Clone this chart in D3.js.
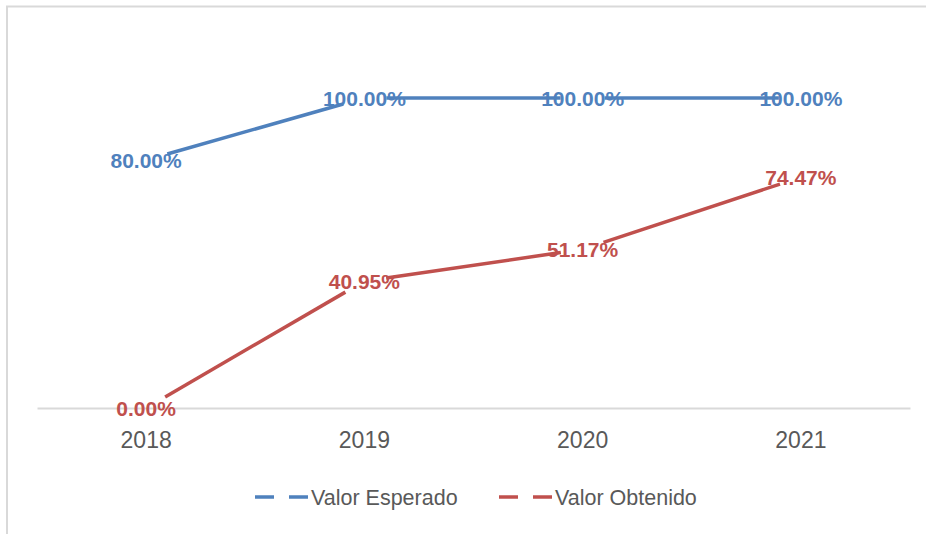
<!DOCTYPE html>
<html>
<head>
<meta charset="utf-8">
<script src="https://cdn.jsdelivr.net/npm/d3@7"></script>
<style>
  body { margin: 0; background: #fff; }
  svg { display: block; }
  .tick-label { font-family: "Liberation Sans", Arial, sans-serif; font-size: 23px; fill: #595959; }
  .data-label { font-family: "Liberation Sans", Arial, sans-serif; font-size: 21px; font-weight: bold; }
  .legend-text { font-family: "Liberation Sans", Arial, sans-serif; font-size: 21.5px; fill: #595959; }
</style>
</head>
<body>
<div id="chart"></div>
<script>
const YEARS = ["2018", "2019", "2020", "2021"];
const ESPERADO = [80.0, 100.0, 100.0, 100.0];
const OBTENIDO = [0.0, 40.95, 51.17, 74.47];

const SERIES = [
  { name: "Valor Esperado", values: ESPERADO, color: "#4f81bd" },
  { name: "Valor Obtenido", values: OBTENIDO, color: "#c0504d" }
];

const WIDTH = 926;
const HEIGHT = 534;
const MARGIN = { TOP: 98, RIGHT: 16, BOTTOM: 126, LEFT: 37 };
const CHART_WIDTH = WIDTH - MARGIN.LEFT - MARGIN.RIGHT;
const CHART_HEIGHT = HEIGHT - MARGIN.TOP - MARGIN.BOTTOM;
const TRIM = 22;

const SVG = d3.select("#chart").append("svg")
  .attr("width", WIDTH)
  .attr("height", HEIGHT);

// outer frame (only top and left edges show in the picture)
SVG.append("path")
  .attr("d", "M7,534 V6.5 H926")
  .attr("fill", "none")
  .attr("stroke", "#d9d9d9")
  .attr("stroke-width", 2);

const CHART = SVG.append("g")
  .attr("transform", "translate(" + MARGIN.LEFT + "," + MARGIN.TOP + ")");

const X_SCALE = d3.scaleBand()
  .domain(YEARS)
  .range([0, CHART_WIDTH]);

const Y_SCALE = d3.scaleLinear()
  .domain([0, 100])
  .range([CHART_HEIGHT, 0]);

const X_AXIS = d3.axisBottom(X_SCALE).tickSize(0).tickPadding(24);

const AXIS_G = CHART.append("g")
  .attr("transform", "translate(0," + CHART_HEIGHT + ")")
  .call(X_AXIS);
AXIS_G.select(".domain").attr("stroke", "#d9d9d9").attr("stroke-width", 2);
AXIS_G.selectAll(".tick text").attr("class", "tick-label").attr("font-size", null).attr("font-family", null);

const px = (i) => X_SCALE(YEARS[i]) + X_SCALE.bandwidth() / 2;

SERIES.forEach((s) => {
  const G = CHART.append("g");
  // segments between points, shortened at both ends like the original
  const segs = d3.pairs(s.values.map((v, i) => [px(i), Y_SCALE(v)]));
  const trim = (a, b) => TRIM / Math.hypot(b[0] - a[0], b[1] - a[1]);
  G.selectAll("line")
    .data(segs)
    .enter()
    .append("line")
    .attr("x1", (d) => d[0][0] + (d[1][0] - d[0][0]) * trim(d[0], d[1]))
    .attr("y1", (d) => d[0][1] + (d[1][1] - d[0][1]) * trim(d[0], d[1]))
    .attr("x2", (d) => d[1][0] - (d[1][0] - d[0][0]) * trim(d[0], d[1]))
    .attr("y2", (d) => d[1][1] - (d[1][1] - d[0][1]) * trim(d[0], d[1]))
    .attr("stroke", s.color)
    .attr("stroke-width", 3.5);

  G.selectAll("text")
    .data(s.values)
    .enter()
    .append("text")
    .attr("class", "data-label")
    .attr("x", (d, i) => px(i))
    .attr("y", (d) => Y_SCALE(d))
    .attr("dy", "0.36em")
    .attr("text-anchor", "middle")
    .attr("fill", s.color)
    .text((d) => d.toFixed(2) + "%");
});

// legend
const LEGEND = SVG.append("g").attr("transform", "translate(253,497)");
const LEGEND_X = [0, 244];
SERIES.forEach((s, i) => {
  const L = LEGEND.append("g").attr("transform", "translate(" + LEGEND_X[i] + ",0)");
  L.append("line")
    .attr("x1", 2).attr("x2", 55)
    .attr("stroke", s.color)
    .attr("stroke-width", 3.5)
    .attr("stroke-dasharray", "19,15");
  L.append("text")
    .attr("class", "legend-text")
    .attr("x", 58)
    .attr("dy", "0.36em")
    .text(s.name);
});
</script>
</body>
</html>
